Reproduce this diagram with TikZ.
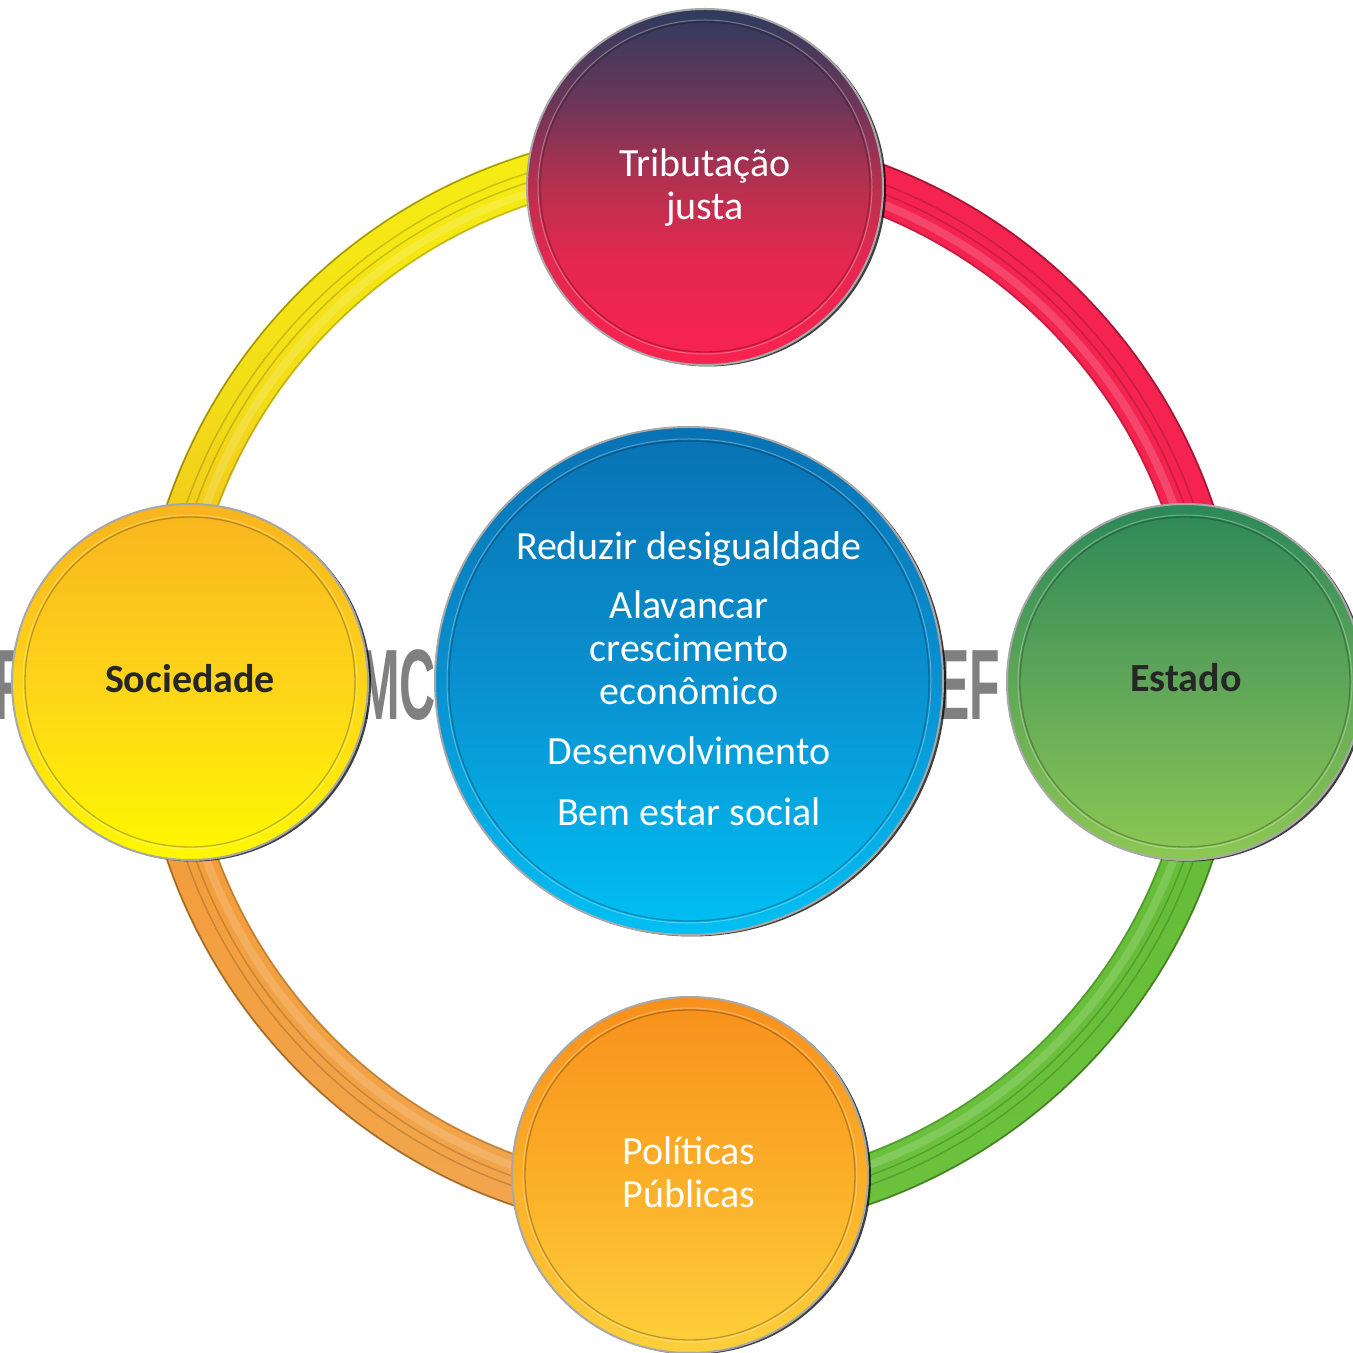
\documentclass[tikz,border=0pt]{standalone}
\usepackage{fontspec}
\usepackage{graphicx}
\setmainfont{Carlito}
\newfontfamily\bgfont{Liberation Sans}
\usetikzlibrary{calc,shadows}
\definecolor{tribA}{HTML}{2E3B5E}
\definecolor{tribB}{HTML}{6B3658}
\definecolor{tribC}{HTML}{B8304F}
\definecolor{tribD}{HTML}{E3284F}
\definecolor{tribE}{HTML}{F6234F}
\definecolor{bubrim}{HTML}{A8A8A8}
\definecolor{darktext}{HTML}{262626}
\definecolor{bggray}{HTML}{808080}
\definecolor{redring}{HTML}{F4234F}
\definecolor{yelTop}{HTML}{F6EE12}
\definecolor{yelMid}{HTML}{F3DC18}
\definecolor{yelBot}{HTML}{EFB422}
\definecolor{oraTop}{HTML}{F39A33}
\definecolor{oraBot}{HTML}{F2A64E}
\definecolor{grnTop}{HTML}{62BB35}
\definecolor{grnBot}{HTML}{6CC23D}
\definecolor{socTop}{HTML}{F8B41E}
\definecolor{socMid}{HTML}{FDD41A}
\definecolor{socBot}{HTML}{FFF800}
\definecolor{estTop}{HTML}{2C8858}
\definecolor{estMid}{HTML}{5FA659}
\definecolor{estBot}{HTML}{8DC853}
\definecolor{polTop}{HTML}{F7901C}
\definecolor{polMid}{HTML}{FBAE28}
\definecolor{polBot}{HTML}{FDD03B}
\definecolor{cenTop}{HTML}{0872B3}
\definecolor{cenMid}{HTML}{0A90CF}
\definecolor{cenBot}{HTML}{00C0F4}
\pgfdeclareverticalshading{tribshade}{100bp}{color(0bp)=(tribE); color(28bp)=(tribE); color(40bp)=(tribD); color(50bp)=(tribC); color(62bp)=(tribB); color(75bp)=(tribA); color(100bp)=(tribA)}
\tikzset{
  bubble/.style={circle, inner sep=0pt, minimum size=356pt, draw=bubrim, line width=2pt,
    drop shadow={opacity=.75, shadow xshift=3pt, shadow yshift=-1.5pt, fill=black}},
  bigbubble/.style={bubble, minimum size=508pt},
  lbl/.style={font=\fontsize{40}{44}\selectfont, text=white, anchor=base, inner sep=0pt},
  dlbl/.style={lbl, font=\fontsize{40}{44}\selectfont\bfseries, text=darktext},
  bgtxt/.style={font=\bgfont\bfseries\fontsize{100}{100}\selectfont, text=bggray, anchor=base west, inner sep=0pt},
  groove/.style={line width=1.5pt, black, opacity=.17},
  shine/.style={line width=8pt, white, opacity=.16},
  rimdark/.style={line width=1.4pt, black, opacity=.35},
}
% ring piece: #1 start angle, #2 end angle, #3 shading options
\newcommand\ringpiece[3]{%
  \fill[black, opacity=.35, shift={(2.5,-3)}] ($(R)+(#1:553)$) arc[start angle=#1, end angle=#2, radius=553] -- ($(R)+(#2:503)$) arc[start angle=#2, end angle=#1, radius=503] -- cycle;
  \shade[#3] ($(R)+(#1:553)$) arc[start angle=#1, end angle=#2, radius=553] -- ($(R)+(#2:503)$) arc[start angle=#2, end angle=#1, radius=503] -- cycle;
  \draw[shine] ($(R)+(#1:515)$) arc[start angle=#1, end angle=#2, radius=515];
  \draw[groove] ($(R)+(#1:525)$) arc[start angle=#1, end angle=#2, radius=525];
  \draw[groove] ($(R)+(#1:534)$) arc[start angle=#1, end angle=#2, radius=534];
  \draw[rimdark] ($(R)+(#1:552)$) arc[start angle=#1, end angle=#2, radius=552];
  \draw[rimdark, opacity=.2] ($(R)+(#1:504)$) arc[start angle=#1, end angle=#2, radius=504];
}
\newcommand\innerrim[2]{%
  \draw[line width=1.3pt, black, opacity=.25] (#1) circle[radius=#2];
  \draw[line width=1pt, white, opacity=.3] (#1) circle[radius=#2+2];
}
\begin{document}
\begin{tikzpicture}[x=1pt, y=1pt]
\useasboundingbox (0,0) rectangle (1353,1353);
\clip (0,0) rectangle (1353,1353);
\fill[white] (0,0) rectangle (1353,1353);
\coordinate (R) at (690,671);
% ring
\ringpiece{0}{90}{top color=redring, bottom color=redring}
\ringpiece{90}{180}{top color=yelTop, bottom color=yelBot, middle color=yelMid}
\ringpiece{180}{270}{top color=oraTop, bottom color=oraBot}
\ringpiece{270}{360}{top color=grnTop, bottom color=grnBot}
% background letters
\node[bgtxt] (bgF) at (-6,633) {\scalebox{0.5}[1]{F}};
\node[bgtxt] (bgMC) at (358,633) {\scalebox{0.5}[1]{MC}};
\node[bgtxt] (bgEF) at (936,633) {\scalebox{0.5}[1]{EF}};
% bubbles
\node[bubble, shade, shading=tribshade] (trib) at (705,1166) {};
\innerrim{trib}{165}
\node[bubble, top color=socTop, bottom color=socBot, middle color=socMid] (soc) at (190,671) {};
\innerrim{soc}{165}
\node[bubble, top color=estTop, bottom color=estBot, middle color=estMid] (est) at (1185,671) {};
\innerrim{est}{165}
\node[bubble, top color=polTop, bottom color=polBot, middle color=polMid] (pol) at (690,178) {};
\innerrim{pol}{165}
\node[bigbubble, top color=cenTop, bottom color=cenBot, middle color=cenMid] (cen) at (689,672) {};
\innerrim{cen}{240}
% labels
\node[lbl] (t1) at (705,1176) {Tributação};
\node[lbl] (t2) at (705,1133) {justa};
\node[dlbl] (s1) at (190,660) {Sociedade};
\node[dlbl] (e1) at (1186,661) {Estado};
\node[lbl] (p1) at (689,188) {Políticas};
\node[lbl] (p2) at (689,145) {Públicas};
\node[lbl] (c1) at (689,793) {Reduzir desigualdade};
\node[lbl] (c2) at (689,734) {Alavancar};
\node[lbl] (c3) at (689,691) {crescimento};
\node[lbl] (c4) at (689,648) {econômico};
\node[lbl] (c5) at (689,588) {Desenvolvimento};
\node[lbl] (c6) at (689,527) {Bem estar social};
\end{tikzpicture}
\end{document}
